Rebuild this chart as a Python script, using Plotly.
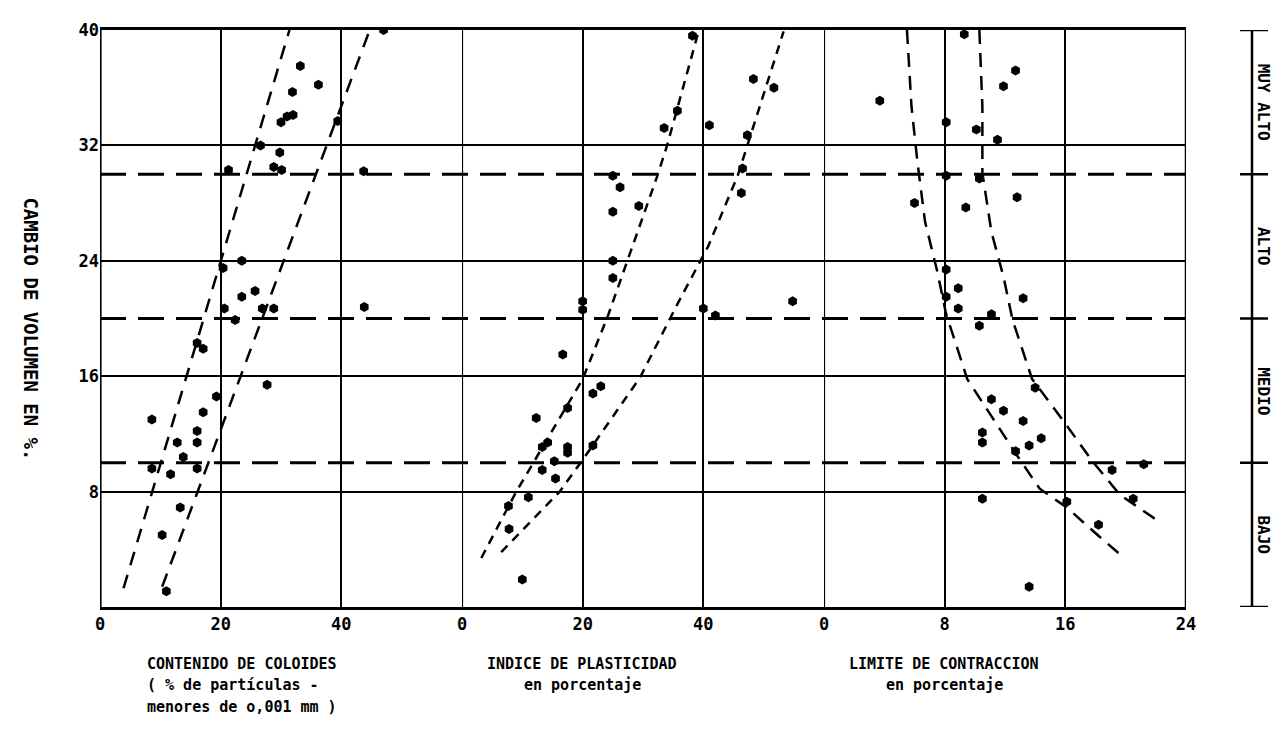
import plotly.graph_objects as go
from plotly.subplots import make_subplots

# ---------------- data ----------------
y_ticks = [8, 16, 24, 32, 40]
y_ticktext = ["8", "16", "24", "32", "40"]
class_limits = [10, 20, 30]
scale_ticks = [0, 10, 20, 30, 40]
class_labels = ["BAJO", "MEDIO", "ALTO", "MUY ALTO"]
class_centers = [5, 15, 25, 35]

x1_ticks = [0, 20, 40]
x2_ticks = [0, 20, 40]
x3_ticks = [0, 8, 16, 24]

# Panel 1: contenido de coloides
p1_x = [47, 33.2, 36.2, 31.9, 30, 31, 32, 39.4, 26.6, 29.8, 28.8, 30.1, 21.3, 43.7,
        20.4, 23.5, 25.7, 23.5, 20.6, 26.9, 28.8, 43.8, 22.4, 16.1, 17.1, 27.7, 19.3,
        17.1, 8.6, 16.1, 12.8, 16.1, 13.8, 8.6, 11.7, 16.1, 13.3, 10.3, 11.0]
p1_y = [40, 37.5, 36.2, 35.7, 33.6, 34.0, 34.1, 33.7, 32, 31.5, 30.5, 30.3, 30.3, 30.2,
        23.5, 24.0, 21.9, 21.5, 20.7, 20.7, 20.7, 20.8, 19.9, 18.3, 17.9, 15.4, 14.6,
        13.5, 13.0, 12.2, 11.4, 11.4, 10.4, 9.6, 9.2, 9.6, 6.9, 5.0, 1.1]
c1a_x = [3.9, 31.4]
c1a_y = [1.3, 40]
c1b_x = [10.3, 44.7]
c1b_y = [1.4, 40]

# Panel 2: indice de plasticidad
p2_x = [38.2, 48.3, 51.7, 35.7, 33.5, 41.0, 47.3, 46.5, 46.3, 25.0, 26.2, 29.3, 25.0,
        25.0, 25.0, 20.0, 20.0, 54.8, 40.0, 42.0, 16.7, 21.7, 23.0, 17.5, 12.3, 13.3,
        14.2, 17.5, 17.5, 21.7, 15.3, 13.3, 15.5, 11.0, 7.7, 7.8, 10.0]
p2_y = [39.6, 36.6, 36.0, 34.4, 33.2, 33.4, 32.7, 30.4, 28.7, 29.9, 29.1, 27.8, 27.4,
        24.0, 22.8, 21.2, 20.6, 21.2, 20.7, 20.2, 17.5, 14.8, 15.3, 13.8, 13.1, 11.1,
        11.4, 11.1, 10.7, 11.2, 10.1, 9.5, 8.9, 7.6, 7.0, 5.4, 1.9]
c2a_x = [3.2, 9.0, 20, 24.2, 32.3, 34, 39.2]
c2a_y = [3.4, 8.0, 15.8, 20.2, 29.8, 32, 39.9]
c2b_x = [6.5, 16.2, 20, 29.5, 35.7, 40.8, 45.7, 47.3, 53.3]
c2b_y = [3.8, 8.0, 10.2, 15.9, 21.0, 25.0, 29.9, 32, 39.9]

# Panel 3: limite de contraccion
p3_x = [9.3, 12.7, 11.9, 3.7, 8.1, 10.1, 11.5, 8.1, 10.3, 12.8, 6.0, 9.4, 8.1, 8.9,
        8.1, 13.2, 8.9, 11.1, 10.3, 14.0, 11.1, 11.9, 13.2, 14.4, 13.6, 12.7, 10.5,
        10.5, 19.1, 21.2, 10.5, 20.5, 16.1, 18.2, 13.6]
p3_y = [39.7, 37.2, 36.1, 35.1, 33.6, 33.1, 32.4, 29.9, 29.7, 28.4, 28.0, 27.7, 23.4,
        22.1, 21.5, 21.4, 20.7, 20.3, 19.5, 15.2, 14.4, 13.6, 12.9, 11.7, 11.2, 10.8,
        12.1, 11.4, 9.5, 9.9, 7.5, 7.5, 7.3, 5.7, 1.4]
c3a_x = [5.5, 5.8, 6.2, 6.7, 7.5, 8.1, 9.5, 10.8, 12.8, 14.3, 16.1, 17.8, 19.9]
c3a_y = [40, 34.7, 30.8, 26.7, 23.3, 20.3, 15.8, 13.7, 10.5, 8.2, 6.9, 5.3, 3.4]
c3b_x = [10.3, 10.5, 10.5, 11.1, 11.9, 12.5, 13.8, 15.8, 17.8, 19.6, 22.1]
c3b_y = [40, 34.7, 30.1, 26.0, 22.9, 19.9, 15.8, 13.0, 10.1, 7.8, 6.0]

FONT = "DejaVu Sans Mono"
OFF = 8  # page body margin of the html page

fig = make_subplots(rows=1, cols=3, shared_yaxes=True, horizontal_spacing=0)

panels = [
    (p1_x, p1_y, [(c1a_x, c1a_y), (c1b_x, c1b_y)], "14px,10px"),
    (p2_x, p2_y, [(c2a_x, c2a_y), (c2b_x, c2b_y)], "9px,7px"),
    (p3_x, p3_y, [(c3a_x, c3a_y), (c3b_x, c3b_y)], "14px,9px"),
]
for i, (px, py, curves, dash) in enumerate(panels, start=1):
    for cx, cy in curves:
        fig.add_trace(go.Scatter(x=cx, y=cy, mode="lines", line=dict(color="black", width=2.5, dash=dash),
                                 hoverinfo="skip", showlegend=False), row=1, col=i)
    fig.add_trace(go.Scatter(x=px, y=py, mode="markers",
                             marker=dict(symbol="hexagon", size=10, color="black"),
                             showlegend=False), row=1, col=i)

xcommon = dict(showgrid=True, gridcolor="black", gridwidth=2, zeroline=False,
               showline=True, linecolor="black", linewidth=2.5, mirror=True, ticks="",
               tickfont=dict(family=FONT, size=17, color="black"))
fig.update_xaxes(range=[0, 60], tickvals=x1_ticks, ticktext=[f"<b>{v}</b>" for v in x1_ticks], row=1, col=1, **xcommon)
fig.update_xaxes(range=[0, 60], tickvals=x2_ticks, ticktext=[f"<b>{v}</b>" for v in x2_ticks], row=1, col=2, **xcommon)
fig.update_xaxes(range=[0, 24], tickvals=x3_ticks, ticktext=[f"<b>{v}</b>" for v in x3_ticks], row=1, col=3, **xcommon)
fig.update_yaxes(range=[0, 40], tickvals=y_ticks, ticktext=[f"<b>{t}</b>" for t in y_ticktext],
                 showgrid=True, gridcolor="black", gridwidth=2, zeroline=False,
                 showline=False, ticks="",
                 tickfont=dict(family=FONT, size=17, color="black"))

shapes = []
# panel borders (vertical)
for xr, xv, w in [("x", 0, 3.2), ("x2", 0, 2.2), ("x3", 0, 2.2), ("x3", 24, 2.5)]:
    shapes.append(dict(type="line", xref=xr, yref="y", x0=xv, x1=xv, y0=0, y1=40,
                       line=dict(color="black", width=w)))
for v in class_limits:
    shapes.append(dict(type="line", xref="paper", yref="y", x0=0, x1=1, y0=v, y1=v,
                       line=dict(color="black", width=2.8, dash="26px,12px")))

# side classification scale (screen pixel positions converted to paper units)
W = 1086.0
def px2paper(p):
    return (p - 100) / W
def py2paper(p):
    return (607 - p) / 584.0
sx = px2paper(1252)
shapes.append(dict(type="line", xref="paper", yref="y", x0=sx, x1=sx, y0=-0.2, y1=40.9,
                   line=dict(color="black", width=2.5)))
for v in scale_ticks:
    shapes.append(dict(type="line", xref="paper", yref="y", x0=px2paper(1240), x1=px2paper(1268),
                       y0=v, y1=v, line=dict(color="black", width=2.5)))
fig.update_layout(shapes=shapes)

ann = []
for lab, c in zip(class_labels, class_centers):
    ann.append(dict(text=f"<b>{lab}</b>", xref="paper", yref="y", x=px2paper(1275), y=c,
                    showarrow=False, textangle=90, font=dict(family=FONT, size=16, color="black")))
ann.append(dict(text="<b>CAMBIO DE VOLUMEN EN %.</b>", xref="paper", yref="paper",
                x=px2paper(18), y=py2paper(325), showarrow=False, textangle=90,
                font=dict(family=FONT, size=19, color="black")))

bottom = [
    ("CONTENIDO DE COLOIDES", 145, 665, "left"),
    ("( % de partículas -", 145, 686, "left"),
    ("menores de o,001 mm )", 145, 708, "left"),
    ("INDICE DE PLASTICIDAD", 582, 665, "center"),
    ("en porcentaje", 582, 686, "center"),
    ("LIMITE DE CONTRACCION", 944, 665, "center"),
    ("en porcentaje", 944, 686, "center"),
]
for t, xp, yp, anc in bottom:
    ann.append(dict(text=f"<b>{t}</b>", xref="paper", yref="paper", x=px2paper(xp),
                    y=py2paper(yp), xanchor=anc, yanchor="middle", showarrow=False,
                    font=dict(family=FONT, size=15, color="black")))
fig.update_layout(annotations=ann)

fig.update_layout(width=1280, height=729,
                  margin=dict(l=100 - OFF, r=1280 - (100 - OFF) - 1086, t=23 - OFF, b=729 - (23 - OFF) - 584),
                  paper_bgcolor="white", plot_bgcolor="white", showlegend=False)

fig.write_html("out.html")
